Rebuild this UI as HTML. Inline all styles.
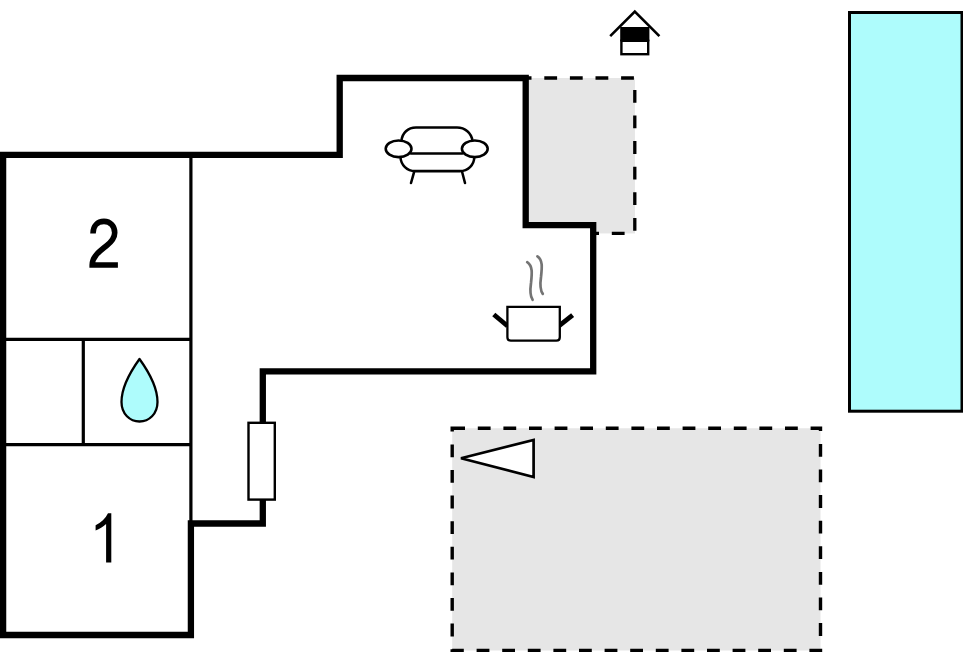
<!DOCTYPE html>
<html>
<head>
<meta charset="utf-8">
<style>
html,body{margin:0;padding:0;background:#fff;}
body{width:963px;height:652px;overflow:hidden;}
svg{display:block;}
text{font-family:"Liberation Sans", sans-serif;}
</style>
</head>
<body>
<svg width="963" height="652" viewBox="0 0 963 652">
  <!-- pool -->
  <rect x="849.5" y="12.5" width="112.5" height="398.7" fill="#aefcfc" stroke="#000" stroke-width="3"/>

  <!-- small dashed terrace -->
  <path d="M518.7 78 H634.8 V233.3 H525" fill="#e6e6e6" stroke="none"/>
  <rect x="525" y="78" width="109.8" height="155.3" fill="#e6e6e6"/>
  <path d="M518.7 78 H634.8 V233.3 H518.7" fill="none" stroke="#000" stroke-width="3.3" stroke-dasharray="12.8 12.8"/>

  <!-- big dashed terrace -->
  <path d="M452.2 428.2 H820.5 V650.4 H452.2 Z" fill="#e6e6e6" stroke="#000" stroke-width="3.4" stroke-dasharray="12.8 12.8"/>

  <!-- interior white fill for building -->
  <path d="M3.1 635 V154.8 H339.7 V78 H525.7 V225.2 H593.2 V371.4 H262.8 V523.5 H190.9 V635 Z" fill="#fff" stroke="none"/>

  <!-- interior thin walls -->
  <g stroke="#000" stroke-width="3.2" fill="none">
    <line x1="190.9" y1="154.8" x2="190.9" y2="523.5"/>
    <line x1="3.1" y1="339.3" x2="190.9" y2="339.3"/>
    <line x1="3.1" y1="444.7" x2="190.9" y2="444.7"/>
    <line x1="83.3" y1="339.3" x2="83.3" y2="444.7"/>
  </g>

  <!-- outer walls -->
  <path d="M3.1 635 V154.8 H339.7 V78 H525.7 V225.2 H593.2 V371.4 H262.8 V523.5 H190.9 V635 Z" fill="none" stroke="#000" stroke-width="6.3" stroke-linejoin="miter"/>

  <!-- door/window on wall -->
  <rect x="248.5" y="422.8" width="26.3" height="76.8" fill="#fff" stroke="#000" stroke-width="2.4"/>

  <!-- water drop -->
  <path d="M139.5 359 C133 368, 121.5 386, 121.5 402 C121.5 414, 130 421.5, 139.5 421.5 C149 421.5, 157.5 414, 157.5 402 C157.5 386, 146 368, 139.5 359 Z" fill="#aefcfc" stroke="#000" stroke-width="2.3" stroke-linejoin="round"/>

  <!-- numbers -->
  <path d="M93 233.4 C93 226, 97.5 221.4, 104 221.4 C110.5 221.4, 114.7 226.5, 114.7 232.8 C114.7 238.2, 112 241.5, 106.5 245.8 C98.5 252, 92.2 257, 92.2 265 H117.9" fill="none" stroke="#000" stroke-width="5.6" stroke-linejoin="miter"/>
  <path d="M108 513.2 H111.3 V562.6 H106.1 V524 C103 527, 99.5 529, 95.6 530.6 V525.2 C101 522.5, 105.5 518.5, 108 513.2 Z" fill="#000"/>

  <!-- house icon -->
  <g>
    <polyline points="610.2,36.2 634.8,11.6 659.4,36.2" fill="none" stroke="#000" stroke-width="2.6"/>
    <rect x="620.2" y="27" width="29.2" height="14.4" fill="#000"/>
    <rect x="621.4" y="40.8" width="26.8" height="13.4" fill="#fff" stroke="#000" stroke-width="2.4"/>
  </g>

  <!-- sofa -->
  <g fill="none" stroke="#000" stroke-width="2.55" stroke-linecap="round">
    <path d="M401.5 141 C402 133, 408 127.5, 416 127.5 H457 C465 127.5, 471.5 133, 472.5 141"/>
    <line x1="411" y1="153.5" x2="462.4" y2="153.5"/>
    <path d="M400.5 157.5 C401 165, 407 171.1, 415 171.1 H460 C468 171.1, 474 165, 474.3 157.5"/>
    <ellipse cx="398.6" cy="148.8" rx="12.9" ry="8.3" fill="#fff"/>
    <ellipse cx="474.8" cy="148.8" rx="12.9" ry="8.3" fill="#fff"/>
    <line x1="414" y1="172.3" x2="411" y2="183"/>
    <line x1="462.2" y1="172.3" x2="465" y2="183"/>
  </g>

  <!-- cooking pot -->
  <g>
    <path d="M527.2 262.2 C533 266, 532 274, 531 283 C530 290, 530 296, 532.6 299.8" fill="none" stroke="#747474" stroke-width="2.7" stroke-linecap="round"/>
    <path d="M537.4 256.3 C543 260, 542 268, 541 277 C540 284, 540 290, 542.8 293.9" fill="none" stroke="#747474" stroke-width="2.7" stroke-linecap="round"/>
    <line x1="493.8" y1="314.5" x2="507.5" y2="326" stroke="#000" stroke-width="4.8"/>
    <line x1="559" y1="325.8" x2="572.6" y2="315.2" stroke="#000" stroke-width="4.8"/>
    <path d="M507.4 306.8 H559.8 V337.2 C559.8 339.5, 559 340.6, 556.4 340.6 H510.8 C508.2 340.6, 507.4 339.5, 507.4 337.2 Z" fill="#fff" stroke="#000" stroke-width="2.3"/>
  </g>

  <!-- triangle -->
  <path d="M461 458.3 L533.6 440 V477 Z" fill="#fff" stroke="#000" stroke-width="2.7" stroke-linejoin="miter"/>
</svg>
</body>
</html>
